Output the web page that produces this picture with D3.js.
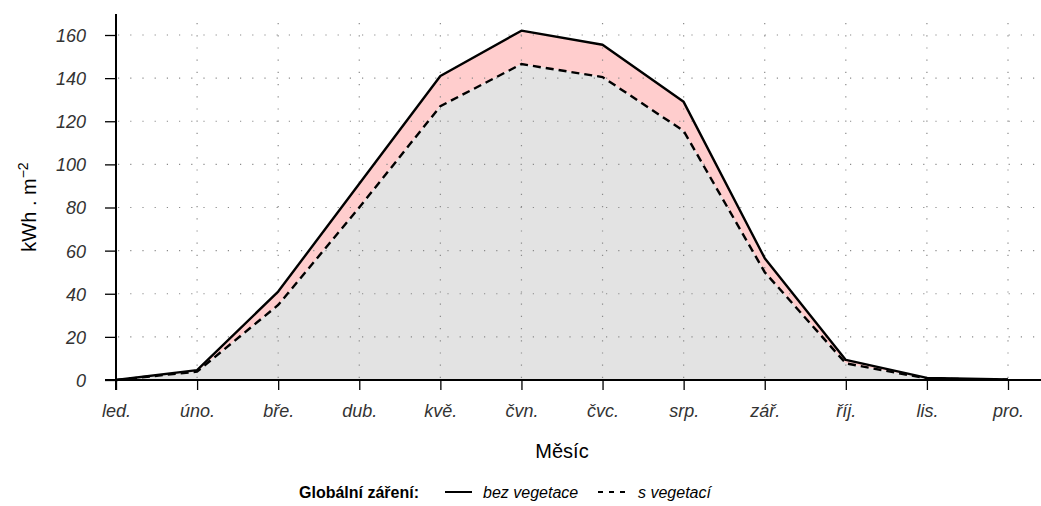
<!DOCTYPE html>
<html>
<head>
<meta charset="utf-8">
<script src="https://cdn.jsdelivr.net/npm/d3@7"></script>
<style>
  html, body { margin: 0; padding: 0; background: #fff; }
  svg { display: block; }
</style>
</head>
<body>
<svg id="chart" width="1041" height="506"></svg>
<script>
// Monthly global irradiation (kWh·m⁻²)
const months = ["led.", "úno.", "bře.", "dub.", "kvě.", "čvn.", "čvc.", "srp.", "zář.", "říj.", "lis.", "pro."];
const bezVegetace = [0, 4.6, 41, 91, 141, 162, 155.5, 129, 56.5, 9.3, 1.0, 0.2];
const sVegetaci = [0, 3.9, 34.8, 80, 127, 146.5, 140.5, 115.5, 50, 7.7, 0.7, 0.1];
const yTicks = [0, 20, 40, 60, 80, 100, 120, 140, 160];

const svg = d3.select("#chart");
const W = 1041;

const x = d3.scalePoint().domain(months).range([116, 1008]);
const y = d3.scaleLinear().domain([0, 160]).range([380, 35]);

const rows = months.map((m, i) => ({ m, a: bezVegetace[i], b: sVegetaci[i] }));

// Fills: pink band between the two series, grey area under the lower one
svg.append("path")
  .datum(rows)
  .attr("fill", "#ffcdcd")
  .attr("d", d3.area().x(d => x(d.m)).y0(d => y(d.b)).y1(d => y(d.a)));
svg.append("path")
  .datum(rows)
  .attr("fill", "#e3e3e3")
  .attr("d", d3.area().x(d => x(d.m)).y0(y(0)).y1(d => y(d.b)));

// Dotted grid
const grid = svg.append("g").attr("stroke", "#8a8a8a").attr("stroke-width", 1.2)
  .attr("stroke-dasharray", "1.2,11").attr("fill", "none");
yTicks.filter(t => t > 0).forEach(t => {
  grid.append("line").attr("x1", 118).attr("x2", W).attr("y1", y(t)).attr("y2", y(t));
});
months.slice(1).forEach(m => {
  grid.append("line").attr("x1", x(m)).attr("x2", x(m)).attr("y1", 23).attr("y2", 378);
});

// Series lines
const line = key => d3.line().x(d => x(d.m)).y(d => y(d[key]));
svg.append("path").datum(rows)
  .attr("fill", "none").attr("stroke", "#000").attr("stroke-width", 2.4)
  .attr("stroke-linejoin", "round")
  .attr("d", line("a"));
svg.append("path").datum(rows)
  .attr("fill", "none").attr("stroke", "#000").attr("stroke-width", 2.4)
  .attr("stroke-dasharray", "8,5")
  .attr("d", line("b"));

// Axes
const yAxis = svg.append("g")
  .attr("transform", "translate(116,0)")
  .call(d3.axisLeft(y).tickValues(yTicks).tickSize(11).tickPadding(19));
yAxis.select(".domain").remove();
yAxis.append("line").attr("x1", 0).attr("x2", 0).attr("y1", 14).attr("y2", 390)
  .attr("stroke", "#000").attr("stroke-width", 2);

const xAxis = svg.append("g")
  .attr("transform", "translate(0,380)")
  .call(d3.axisBottom(x).tickSize(10).tickPadding(14));
xAxis.select(".domain").remove();
xAxis.append("line").attr("x1", 105).attr("x2", W).attr("y1", 0).attr("y2", 0)
  .attr("stroke", "#000").attr("stroke-width", 2);

[yAxis, xAxis].forEach(g => {
  g.selectAll(".tick line").attr("stroke", "#000").attr("stroke-width", 1.3);
  g.selectAll(".tick text")
    .attr("fill", "#333")
    .style("font-family", "'Liberation Sans', Arial, sans-serif")
    .style("font-style", "italic")
    .style("font-size", "18px");
});
yAxis.selectAll(".tick text").attr("dy", "0.36em");

// Axis titles
svg.append("text")
  .attr("x", 562).attr("y", 458)
  .attr("text-anchor", "middle")
  .style("font-family", "'Liberation Sans', Arial, sans-serif")
  .style("font-size", "20px")
  .text("Měsíc");

const yt = svg.append("text")
  .attr("transform", "translate(36,207) rotate(-90)")
  .attr("text-anchor", "middle")
  .style("font-family", "'Liberation Sans', Arial, sans-serif")
  .style("font-size", "20px");
yt.append("tspan").text("kWh . m");
yt.append("tspan").attr("dy", "-8").style("font-size", "14px").text("−2");

// Legend
const lg = svg.append("g").style("font-family", "'Liberation Sans', Arial, sans-serif")
  .style("font-size", "16px");
lg.append("text").attr("x", 299).attr("y", 498).style("font-weight", "bold").text("Globální záření:");
lg.append("line").attr("x1", 445).attr("x2", 472).attr("y1", 492).attr("y2", 492)
  .attr("stroke", "#000").attr("stroke-width", 2);
lg.append("text").attr("x", 483).attr("y", 498).style("font-style", "italic").text("bez vegetace");
lg.append("line").attr("x1", 598).attr("x2", 626).attr("y1", 492).attr("y2", 492)
  .attr("stroke", "#000").attr("stroke-width", 2).attr("stroke-dasharray", "5,6");
lg.append("text").attr("x", 638).attr("y", 498).style("font-style", "italic").text("s vegetací");
</script>
</body>
</html>
